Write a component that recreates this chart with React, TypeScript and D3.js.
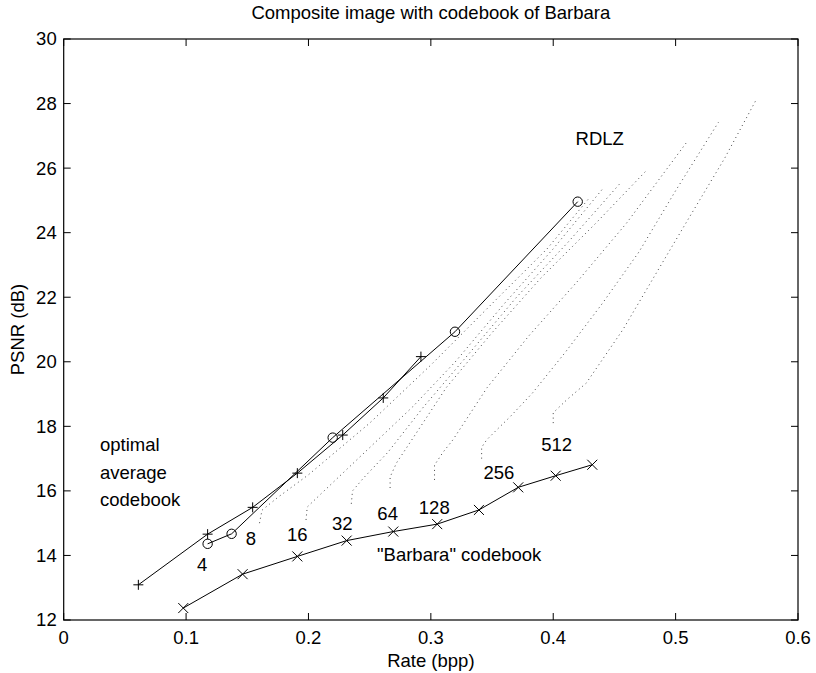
import React from "react";
import * as d3 from "d3";

const W = 816;
const H = 673;
const margin = { left: 63.7, right: 18, top: 39, bottom: 53 };

const xTicks = [0, 0.1, 0.2, 0.3, 0.4, 0.5, 0.6];
const yTicks = [12, 14, 16, 18, 20, 22, 24, 26, 28, 30];

// "+" series
const plusSeries: [number, number][] = [
  [0.061, 13.09], [0.1176, 14.66], [0.1544, 15.49], [0.1909, 16.55],
  [0.228, 17.73], [0.2611, 18.88], [0.2919, 20.16],
];
// "o" series (optimal average codebook)
const circleSeries: [number, number][] = [
  [0.1176, 14.36], [0.1372, 14.67], [0.2198, 17.65], [0.3197, 20.93], [0.42, 24.96],
];
// "x" series (Barbara codebook)
const barbaraSeries: [number, number][] = [
  [0.0977, 12.37], [0.1462, 13.42], [0.1909, 13.97], [0.2312, 14.46], [0.2693, 14.74],
  [0.3052, 14.97], [0.3393, 15.41], [0.3714, 16.11], [0.402, 16.47], [0.4319, 16.81],
];

// RDLZ dotted curves
const rdlz8: [number, number][] = [[0.16, 15.0], [0.162, 15.4], [0.175, 15.8], [0.2, 16.5], [0.25, 18.1], [0.3, 19.9], [0.35, 21.8], [0.395, 23.5], [0.43, 25.1]];
const rdlz16: [number, number][] = [[0.198, 15.1], [0.199, 15.5], [0.21, 15.9], [0.235, 16.8], [0.285, 18.6], [0.32, 20.0], [0.36, 21.8], [0.4, 23.5], [0.44, 25.34]];
const rdlz32: [number, number][] = [[0.235, 15.6], [0.236, 16.0], [0.245, 16.4], [0.265, 17.2], [0.294, 18.6], [0.33, 20.2], [0.37, 22.0], [0.412, 23.7], [0.454, 25.5]];
const rdlz64: [number, number][] = [[0.2667, 16.09], [0.2667, 16.43], [0.272, 16.87], [0.29, 17.9], [0.3126, 19.2], [0.35, 20.9], [0.39, 22.6], [0.435, 24.3], [0.477, 25.96]];
const rdlz128: [number, number][] = [[0.303, 16.34], [0.303, 16.8], [0.31, 17.2], [0.318, 17.58], [0.346, 19.2], [0.38, 20.8], [0.42, 22.5], [0.46, 24.3], [0.51, 26.85]];
const rdlz256: [number, number][] = [[0.3415, 17.0], [0.3415, 17.35], [0.3456, 17.58], [0.3538, 17.89], [0.3646, 18.29], [0.383, 19.03], [0.41, 20.3], [0.44, 21.8], [0.47, 23.4], [0.5, 25.3], [0.535, 27.42]];
const rdlz512: [number, number][] = [[0.4, 18.1], [0.4, 18.42], [0.411, 18.82], [0.427, 19.34], [0.457, 21.0], [0.485, 22.8], [0.51, 24.4], [0.54, 26.3], [0.566, 28.13]];
const rdlzCurves = [rdlz8, rdlz16, rdlz32, rdlz64, rdlz128, rdlz256, rdlz512];

const sizeLabels = ["4", "8", "16", "32", "64", "128", "256", "512"];
const sizeLabelPos: [number, number][] = [
  [0.1132, 13.71], [0.153, 14.52], [0.1908, 14.64], [0.2276, 15.0],
  [0.2647, 15.31], [0.3028, 15.47], [0.3556, 16.58], [0.4028, 17.43],
];

const FONT = "'Liberation Sans', Arial, Helvetica, sans-serif";
const FS = 18.5;

export default function App() {
  const x = d3.scaleLinear().domain([0, 0.6]).range([margin.left, W - margin.right]);
  const y = d3.scaleLinear().domain([12, 30]).range([H - margin.bottom, margin.top]);
  const line = d3.line<[number, number]>().x((d) => x(d[0])).y((d) => y(d[1]));
  const x0 = x(0), x1 = x(0.6), y0 = y(12), y1 = y(30);
  const tl = 7;

  return (
    <svg width={W} height={H} style={{ position: "absolute", left: 0, top: 0, background: "#fff" }} fontFamily={FONT}>
      <rect x={0} y={0} width={W} height={H} fill="#fff" />
      {/* dotted RDLZ curves */}
      {rdlzCurves.map((c, i) => (
        <path key={"r" + i} d={line(c) || ""} fill="none" stroke="#444" strokeWidth={1} strokeDasharray="1 3.5" />
      ))}
      {/* solid lines */}
      <path d={line(plusSeries) || ""} fill="none" stroke="#000" strokeWidth={1} />
      <path d={line(circleSeries) || ""} fill="none" stroke="#000" strokeWidth={1} />
      <path d={line(barbaraSeries) || ""} fill="none" stroke="#000" strokeWidth={1} />
      {plusSeries.map((d, i) => (
        <g key={"p" + i} stroke="#000" strokeWidth={1}>
          <line x1={x(d[0]) - 5} x2={x(d[0]) + 5} y1={y(d[1])} y2={y(d[1])} />
          <line x1={x(d[0])} x2={x(d[0])} y1={y(d[1]) - 5} y2={y(d[1]) + 5} />
        </g>
      ))}
      {circleSeries.map((d, i) => (
        <circle key={"c" + i} cx={x(d[0])} cy={y(d[1])} r={4.7} fill="none" stroke="#000" strokeWidth={1} />
      ))}
      {barbaraSeries.map((d, i) => (
        <g key={"x" + i} stroke="#000" strokeWidth={1}>
          <line x1={x(d[0]) - 5} x2={x(d[0]) + 5} y1={y(d[1]) - 5} y2={y(d[1]) + 5} />
          <line x1={x(d[0]) - 5} x2={x(d[0]) + 5} y1={y(d[1]) + 5} y2={y(d[1]) - 5} />
        </g>
      ))}
      {/* axes box */}
      <rect x={x0} y={y1} width={x1 - x0} height={y0 - y1} fill="none" stroke="#000" strokeWidth={1.2} />
      {xTicks.map((t) => (
        <g key={"xt" + t}>
          <line x1={x(t)} x2={x(t)} y1={y0} y2={y0 - tl} stroke="#000" />
          <line x1={x(t)} x2={x(t)} y1={y1} y2={y1 + tl} stroke="#000" />
          <text x={x(t)} y={y0 + 24} textAnchor="middle" fontSize={FS} fill="#000">{String(t)}</text>
        </g>
      ))}
      {yTicks.map((t) => (
        <g key={"yt" + t}>
          <line x1={x0} x2={x0 + tl} y1={y(t)} y2={y(t)} stroke="#000" />
          <line x1={x1} x2={x1 - tl} y1={y(t)} y2={y(t)} stroke="#000" />
          <text x={x0 - 7} y={y(t)} dy="0.35em" textAnchor="end" fontSize={FS} fill="#000">{String(t)}</text>
        </g>
      ))}
      {/* labels */}
      {sizeLabels.map((s, i) => (
        <text key={"sl" + i} x={x(sizeLabelPos[i][0])} y={y(sizeLabelPos[i][1])} dy="0.35em" textAnchor="middle" fontSize={FS} fill="#000">{s}</text>
      ))}
      <text x={x(0.438)} y={y(26.92)} dy="0.35em" textAnchor="middle" fontSize={FS} fill="#000">RDLZ</text>
      <text x={x(0.0297)} y={y(17.43)} dy="0.35em" fontSize={FS} fill="#000">optimal</text>
      <text x={x(0.0297)} y={y(16.57)} dy="0.35em" fontSize={FS} fill="#000">average</text>
      <text x={x(0.0297)} y={y(15.72)} dy="0.35em" fontSize={FS} fill="#000">codebook</text>
      <text x={x(0.256)} y={y(14.02)} dy="0.35em" fontSize={FS} fill="#000">"Barbara" codebook</text>
      <text x={(x0 + x1) / 2} y={19} textAnchor="middle" fontSize={FS} fill="#000">Composite image with codebook of Barbara</text>
      <text x={(x0 + x1) / 2} y={667} textAnchor="middle" fontSize={FS} fill="#000">Rate (bpp)</text>
      <text transform={`translate(24, ${(y0 + y1) / 2}) rotate(-90)`} textAnchor="middle" fontSize={FS} fill="#000">PSNR (dB)</text>
    </svg>
  );
}
